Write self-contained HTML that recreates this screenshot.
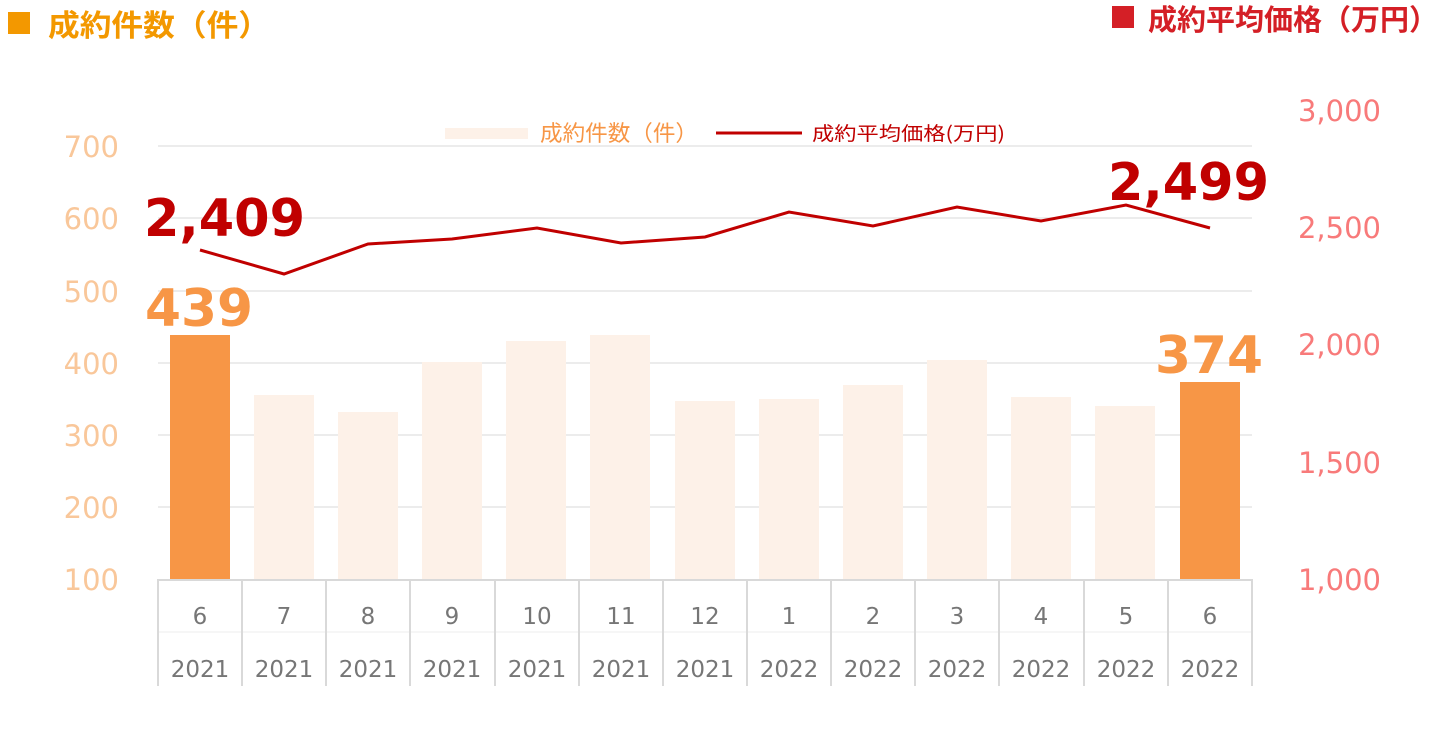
<!DOCTYPE html>
<html><head><meta charset="utf-8"><style>
body{margin:0;background:#fff;width:1440px;height:738px;overflow:hidden}
svg text{font-family:"DejaVu Sans","Noto Sans CJK JP",sans-serif}
svg text.j{font-family:"Noto Sans CJK JP",sans-serif}
</style></head><body>
<svg width="1440" height="738" viewBox="0 0 1440 738">
<rect x="8" y="12" width="22" height="22" fill="#f39800"/>
<text class="j" x="48" y="36" font-size="30" font-weight="bold" fill="#f39800" textLength="222" lengthAdjust="spacingAndGlyphs">成約件数（件）</text>
<rect x="1112" y="6" width="22" height="22" fill="#d41f26"/>
<text class="j" x="1148" y="30" font-size="29" font-weight="bold" fill="#d41f26" textLength="290" lengthAdjust="spacingAndGlyphs">成約平均価格（万円）</text>
<g stroke="#e0e0e0" stroke-width="1.2">
<line x1="158" x2="1252" y1="146" y2="146"/><line x1="158" x2="1252" y1="218" y2="218"/>
<line x1="158" x2="1252" y1="291" y2="291"/><line x1="158" x2="1252" y1="363" y2="363"/>
<line x1="158" x2="1252" y1="435" y2="435"/><line x1="158" x2="1252" y1="507" y2="507"/>
</g>
<g font-size="29" fill="#f9c79a" text-anchor="end">
<text x="119" y="157">700</text><text x="119" y="229">600</text><text x="119" y="302">500</text>
<text x="119" y="374">400</text><text x="119" y="446">300</text><text x="119" y="518">200</text><text x="119" y="590">100</text>
</g>
<g font-size="29" fill="#f87a7a" text-anchor="end">
<text x="1381" y="121">3,000</text><text x="1381" y="238">2,500</text><text x="1381" y="355">2,000</text>
<text x="1381" y="473">1,500</text><text x="1381" y="590">1,000</text>
</g>
<g fill="#fdf1e8">
<rect x="254" y="395" width="60" height="184"/><rect x="338" y="412" width="60" height="167"/>
<rect x="422" y="362" width="60" height="217"/><rect x="506" y="341" width="60" height="238"/>
<rect x="590" y="335" width="60" height="244"/><rect x="675" y="401" width="60" height="178"/>
<rect x="759" y="399" width="60" height="180"/><rect x="843" y="385" width="60" height="194"/>
<rect x="927" y="360" width="60" height="219"/><rect x="1011" y="397" width="60" height="182"/>
<rect x="1095" y="406" width="60" height="173"/>
</g>
<rect x="170" y="335" width="60" height="244" fill="#f79646"/>
<rect x="1180" y="382" width="60" height="197" fill="#f79646"/>
<polyline fill="none" stroke="#c00000" stroke-width="3" points="200,250 284,274 368,244 452,239 537,228 621,243 705,237 789,212 873,226 957,207 1041,221 1126,205 1210,228"/>
<text x="144" y="236" font-size="52" font-weight="bold" fill="#c00000" textLength="161" lengthAdjust="spacingAndGlyphs">2,409</text>
<text x="1108" y="200" font-size="52" font-weight="bold" fill="#c00000" textLength="161" lengthAdjust="spacingAndGlyphs">2,499</text>
<text x="145" y="326" font-size="52" font-weight="bold" fill="#f79646" textLength="108" lengthAdjust="spacingAndGlyphs">439</text>
<text x="1155" y="373" font-size="52" font-weight="bold" fill="#f79646" textLength="108" lengthAdjust="spacingAndGlyphs">374</text>
<rect x="445" y="128" width="83" height="11" fill="#fdf1e8"/>
<text class="j" x="540" y="141" font-size="22" fill="#f79646" textLength="158" lengthAdjust="spacingAndGlyphs">成約件数（件）</text>
<line x1="716" x2="802" y1="133" y2="133" stroke="#c00000" stroke-width="3"/>
<text class="j" x="812" y="140" font-size="19" fill="#c00000" textLength="193" lengthAdjust="spacingAndGlyphs">成約平均価格(万円)</text>
<g stroke="#d9d9d9" stroke-width="2">
<line x1="157" x2="1253" y1="580" y2="580"/>
<line x1="158" x2="1252" y1="632" y2="632" stroke-width="1" stroke="#eee"/>
<line x1="158" x2="158" y1="580" y2="686"/><line x1="242" x2="242" y1="580" y2="686"/>
<line x1="326" x2="326" y1="580" y2="686"/><line x1="410" x2="410" y1="580" y2="686"/>
<line x1="495" x2="495" y1="580" y2="686"/><line x1="579" x2="579" y1="580" y2="686"/>
<line x1="663" x2="663" y1="580" y2="686"/><line x1="747" x2="747" y1="580" y2="686"/>
<line x1="831" x2="831" y1="580" y2="686"/><line x1="915" x2="915" y1="580" y2="686"/>
<line x1="999" x2="999" y1="580" y2="686"/><line x1="1084" x2="1084" y1="580" y2="686"/>
<line x1="1168" x2="1168" y1="580" y2="686"/><line x1="1252" x2="1252" y1="580" y2="686"/>
</g>
<g font-size="23" fill="#767676" text-anchor="middle">
<text x="200" y="624">6</text><text x="284" y="624">7</text><text x="368" y="624">8</text><text x="452" y="624">9</text>
<text x="537" y="624">10</text><text x="621" y="624">11</text><text x="705" y="624">12</text><text x="789" y="624">1</text>
<text x="873" y="624">2</text><text x="957" y="624">3</text><text x="1041" y="624">4</text><text x="1126" y="624">5</text><text x="1210" y="624">6</text>
<text x="200" y="677">2021</text><text x="284" y="677">2021</text><text x="368" y="677">2021</text><text x="452" y="677">2021</text>
<text x="537" y="677">2021</text><text x="621" y="677">2021</text><text x="705" y="677">2021</text><text x="789" y="677">2022</text>
<text x="873" y="677">2022</text><text x="957" y="677">2022</text><text x="1041" y="677">2022</text><text x="1126" y="677">2022</text><text x="1210" y="677">2022</text>
</g>
</svg>
</body></html>
